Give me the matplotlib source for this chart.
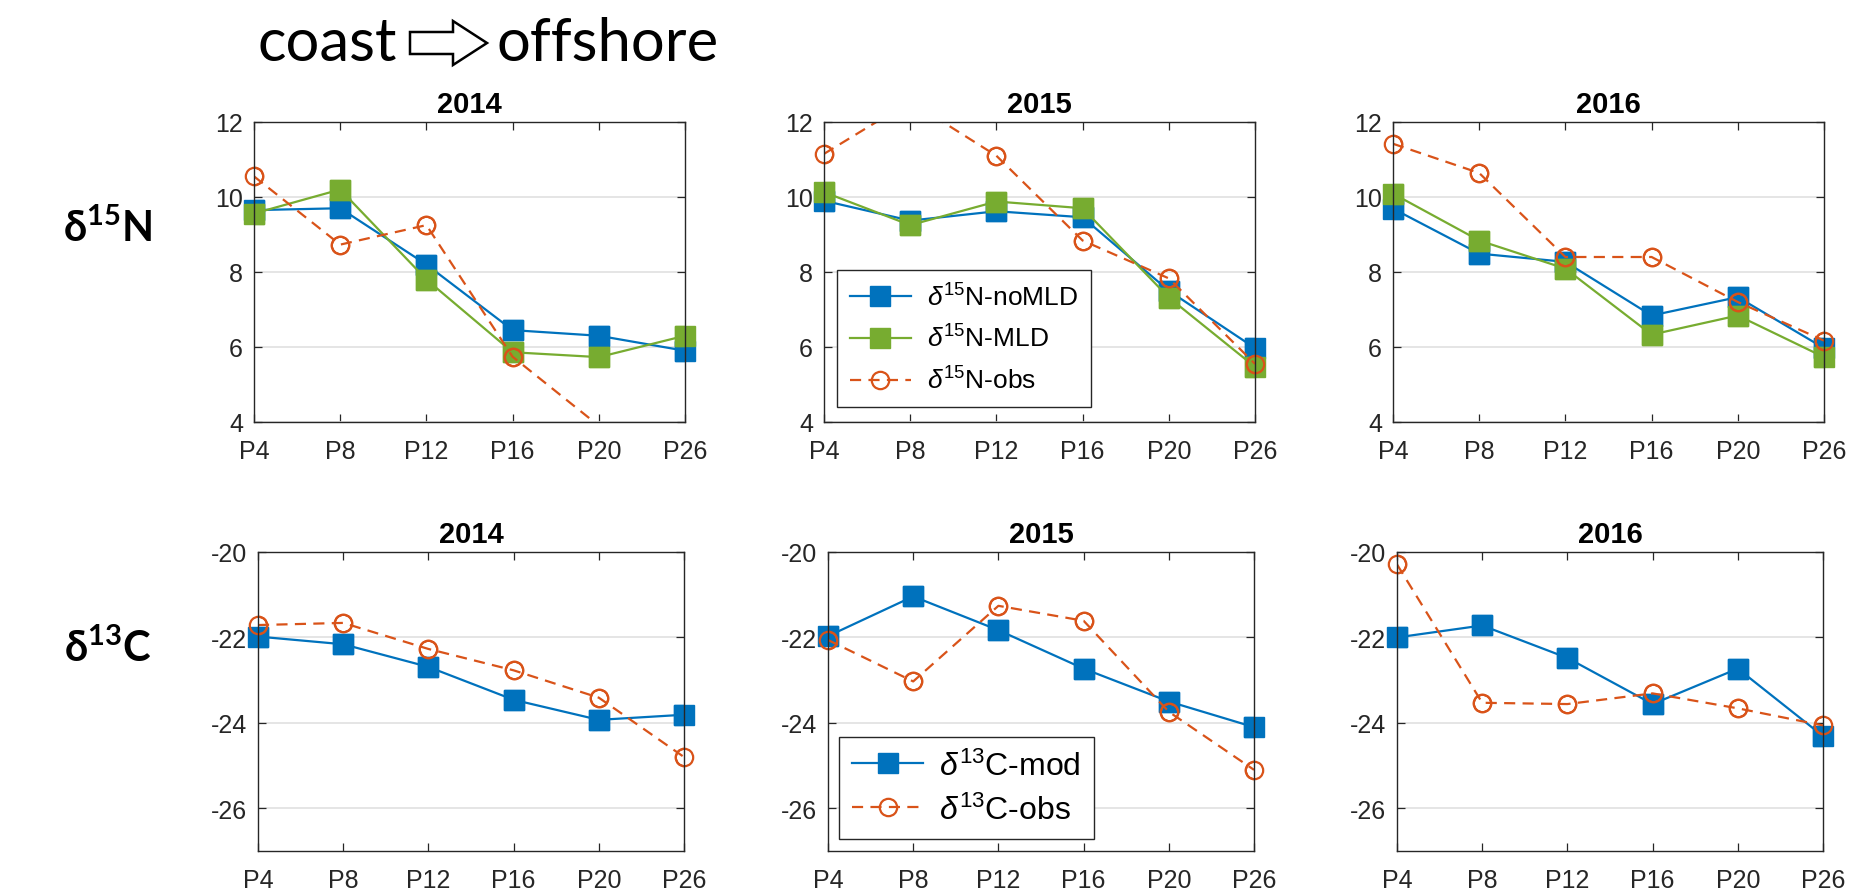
import numpy as np
import matplotlib
matplotlib.use("Agg")
import matplotlib.pyplot as plt
from matplotlib.patches import Polygon

# --- data -------------------------------------------------------------
stations = ['P4', 'P8', 'P12', 'P16', 'P20', 'P26']
years = ['2014', '2015', '2016']

n15_nomld_2014 = [9.65, 9.70, 8.20, 6.45, 6.30, 5.90]
n15_mld_2014 = [9.56, 10.20, 7.80, 5.86, 5.73, 6.30]
n15_obs_2014 = [10.55, 8.73, 9.25, 5.74, 3.90, np.nan]

n15_nomld_2015 = [9.90, 9.37, 9.62, 9.46, 7.50, 5.97]
n15_mld_2015 = [10.13, 9.25, 9.88, 9.70, 7.32, 5.47]
n15_obs_2015 = [11.15, 12.55, 11.10, 8.84, 7.83, 5.55]

n15_nomld_2016 = [9.69, 8.49, 8.27, 6.84, 7.33, 5.97]
n15_mld_2016 = [10.09, 8.84, 8.09, 6.33, 6.84, 5.73]
n15_obs_2016 = [11.42, 10.64, 8.40, 8.40, 7.20, 6.17]

c13_mod_2014 = [-21.98, -22.16, -22.69, -23.46, -23.93, -23.81]
c13_obs_2014 = [-21.71, -21.66, -22.27, -22.77, -23.41, -24.80]

c13_mod_2015 = [-21.97, -21.04, -21.83, -22.73, -23.50, -24.10]
c13_obs_2015 = [-22.06, -23.03, -21.26, -21.61, -23.74, -25.10]

c13_mod_2016 = [-22.00, -21.72, -22.48, -23.56, -22.73, -24.31]
c13_obs_2016 = [-20.29, -23.53, -23.56, -23.31, -23.66, -24.06]

# --- style ------------------------------------------------------------
blue = '#0072BD'
green = '#77AC30'
orange = '#D95319'
dark = '#262626'

plt.rcParams['font.family'] = ['Liberation Sans', 'DejaVu Sans']
plt.rcParams['axes.unicode_minus'] = False
plt.rcParams['mathtext.fontset'] = 'custom'
plt.rcParams['mathtext.rm'] = 'Liberation Sans'
plt.rcParams['mathtext.it'] = 'Liberation Sans:italic'
plt.rcParams['mathtext.bf'] = 'Lato:bold'

W, H = 1858, 895
fig = plt.figure(figsize=(W / 100, H / 100), dpi=100)


def px_axes(left, top, width, height):
    # position given in pixels from the top-left corner
    return fig.add_axes([left / W, 1 - (top + height) / H, width / W, height / H])


def draw_line(ax, y, color, style, marker, label, ylim):
    x = np.arange(1, len(stations) + 1)
    y = np.array(y, dtype=float)
    if marker == 's':
        mkw = dict(marker='s', markersize=14, markerfacecolor=color, markeredgecolor=color)
    else:
        mkw = dict(marker='o', markersize=12.5, markerfacecolor='none',
                   markeredgecolor=color, markeredgewidth=1.6)
    # markers only where the point is inside the y-range (like MATLAB)
    inside = (y >= ylim[0]) & (y <= ylim[1])
    ln, = ax.plot(x, y, color=color, lw=1.6, label=label, markevery=list(inside), **mkw)
    if style == '--':
        ln.set_dashes((5, 3.3))
    # redraw those markers unclipped so edge markers are whole
    ax.plot(x[inside], y[inside], ls='none', clip_on=False, **mkw)
    return ln


def style_axes(ax, ylim, yticks, title):
    ax.set_xlim(1, len(stations))
    ax.set_ylim(*ylim)
    ax.set_xticks(np.arange(1, len(stations) + 1))
    ax.set_xticklabels(stations)
    ax.set_yticks(yticks)
    ax.yaxis.grid(True, color='#e0e0e0', lw=1.2)
    ax.set_axisbelow(True)
    ax.tick_params(direction='in', top=True, right=True, length=6, width=0.9,
                   labelsize=18, colors=dark)
    ax.tick_params(axis='x', pad=12)
    ax.tick_params(axis='y', pad=8)
    for s in ax.spines.values():
        s.set_color(dark)
        s.set_linewidth(1.0)
    ax.set_title(title, fontsize=21, fontweight='bold', pad=7)


top_left = [254, 824, 1393]
bot_left = [258, 828, 1397]

n15_sets = [(n15_nomld_2014, n15_mld_2014, n15_obs_2014),
            (n15_nomld_2015, n15_mld_2015, n15_obs_2015),
            (n15_nomld_2016, n15_mld_2016, n15_obs_2016)]
c13_sets = [(c13_mod_2014, c13_obs_2014),
            (c13_mod_2015, c13_obs_2015),
            (c13_mod_2016, c13_obs_2016)]

n15_ylim = (4, 12)
c13_ylim = (-27, -20)

for i in range(3):
    ax = px_axes(top_left[i], 123, 431, 300)
    nomld, mld, obs = n15_sets[i]
    draw_line(ax, nomld, blue, '-', 's', r'$\delta^{15}$N-noMLD', n15_ylim)
    draw_line(ax, mld, green, '-', 's', r'$\delta^{15}$N-MLD', n15_ylim)
    draw_line(ax, obs, orange, '--', 'o', r'$\delta^{15}$N-obs', n15_ylim)
    style_axes(ax, n15_ylim, [4, 6, 8, 10, 12], years[i])
    if i == 1:
        leg = ax.legend(loc='lower left', bbox_to_anchor=(0.03, 0.05), borderaxespad=0,
                        fontsize=19, handlelength=2.3, handletextpad=0.6,
                        labelspacing=0.55, borderpad=0.5,
                        fancybox=False, framealpha=1, edgecolor=dark)
        leg.get_frame().set_linewidth(1.0)

    ax = px_axes(bot_left[i], 553, 426, 299)
    mod, obs = c13_sets[i]
    draw_line(ax, mod, blue, '-', 's', r'$\delta^{13}$C-mod', c13_ylim)
    draw_line(ax, obs, orange, '--', 'o', r'$\delta^{13}$C-obs', c13_ylim)
    style_axes(ax, c13_ylim, [-26, -24, -22, -20], years[i])
    if i == 1:
        leg = ax.legend(loc='lower left', bbox_to_anchor=(0.026, 0.04), borderaxespad=0,
                        fontsize=23, handlelength=2.2, handletextpad=0.5,
                        labelspacing=0.4, borderpad=0.42,
                        fancybox=False, framealpha=1, edgecolor=dark)
        leg.get_frame().set_linewidth(1.0)

# row labels
fig.text(108 / W, 1 - 228 / H, r'δ$^{\mathbf{15}}$N', fontsize=30, fontweight='bold',
         family=['Lato', 'DejaVu Sans'], ha='center', va='center')
fig.text(108 / W, 1 - 648 / H, r'δ$^{\mathbf{13}}$C', fontsize=30, fontweight='bold',
         family=['Lato', 'DejaVu Sans'], ha='center', va='center')

# coast -> offshore header
fig.text(397 / W, 1 - 44 / H, 'coast', fontsize=43, family=['Lato', 'DejaVu Sans'],
         ha='right', va='center')
fig.text(497 / W, 1 - 44 / H, 'offshore', fontsize=43, family=['Lato', 'DejaVu Sans'],
         ha='left', va='center')
ax0, ay0 = 410, 44          # arrow tail centre (pixels from top-left)
arrow_px = [(0, -11), (43, -11), (43, -22), (77, 0), (43, 22), (43, 11), (0, 11)]
arrow_pts = [((ax0 + dx) / W, 1 - (ay0 + dy) / H) for dx, dy in arrow_px]
fig.add_artist(Polygon(arrow_pts, closed=True, facecolor='white', edgecolor='black',
                       lw=1.8, transform=fig.transFigure))

fig.savefig('out.png', dpi=100)
